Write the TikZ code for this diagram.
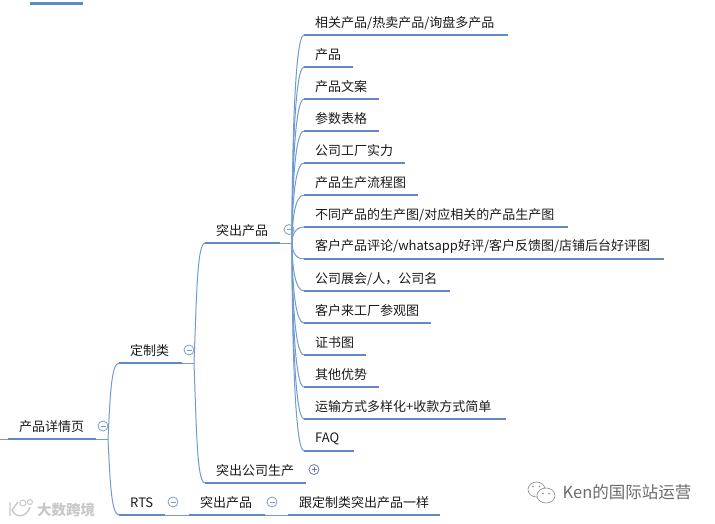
\documentclass[tikz,border=0pt]{standalone}
\usepackage{fontspec}
\usetikzlibrary{calc}
\setmainfont{Noto Sans CJK SC}
\definecolor{barblue}{HTML}{5F8AC4}
\definecolor{linkblue}{HTML}{6F9BD1}
\definecolor{btnblue}{HTML}{7F9CC6}
\definecolor{txt}{HTML}{1A1A1A}
\definecolor{wmgray}{HTML}{C8C8C8}
\tikzset{
  topic/.style={anchor=south west,inner sep=0pt,minimum height=24pt,text width=#1,align=left,
    execute at begin node={\hspace*{11pt}},font=\fontsize{13pt}{15pt}\selectfont,text=txt},
  bar/.style={draw=barblue,line width=2.8pt},
  link/.style={draw=linkblue,line width=1pt},
  btn/.style={circle,draw=btnblue,line width=.8pt,inner sep=0pt,minimum size=10pt},
  minusbtn/.style={btn,path picture={\draw[btnblue,line width=.8pt] ([xshift=2.5pt]path picture bounding box.west)--([xshift=-2.5pt]path picture bounding box.east);}},
  plusbtn/.style={btn,draw=btnblue!80!black,path picture={\draw[btnblue!80!black,line width=.8pt] ([xshift=2.5pt]path picture bounding box.west)--([xshift=-2.5pt]path picture bounding box.east) ([yshift=2.5pt]path picture bounding box.south)--([yshift=-2.5pt]path picture bounding box.north);}},
}
\begin{document}
\begin{tikzpicture}[x=1pt,y=-1pt]
\useasboundingbox (0,0) rectangle (715,523);
% topics
\node[topic=53pt] (stub) at (30,3.5) {};
\node[topic=88pt] (root) at (8,439) {产品详情页};
\node[topic=63pt] (custom) at (119,363) {定制类};
\node[topic=46pt] (rts) at (119,515) {RTS};
\node[topic=75pt] (high) at (205,243) {突出产品};
\node[topic=101pt] (factory) at (205,483) {突出公司生产};
\node[topic=76pt] (high2) at (189,515) {突出产品};
\node[topic=152pt] (same) at (288,515) {跟定制类突出产品一样};
\node[topic=204pt] (a) at (304,35) {相关产品/热卖产品/询盘多产品};
\node[topic=49pt] (b) at (304,67) {产品};
\node[topic=75pt] (c) at (304,99) {产品文案};
\node[topic=75pt] (d) at (304,131) {参数表格};
\node[topic=101pt] (e) at (304,163) {公司工厂实力};
\node[topic=114pt] (f) at (304,195) {产品生产流程图};
\node[topic=264pt] (g) at (304,227) {不同产品的生产图/对应相关的产品生产图};
\node[topic=360pt] (h) at (304,259) {客户产品评论/whatsapp好评/客户反馈图/店铺后台好评图};
\node[topic=146pt] (i) at (304,291) {公司展会/人，公司名};
\node[topic=127pt] (j) at (304,323) {客户来工厂参观图};
\node[topic=62pt] (k) at (304,355) {证书图};
\node[topic=75pt] (l) at (304,387) {其他优势};
\node[topic=202pt] (m) at (304,419) {运输方式多样化+收款方式简单};
\node[topic=50pt] (n) at (304,451) {FAQ};
% underlines
\foreach \t in {stub,root,custom,rts,high,factory,high2,same,a,b,c,d,e,f,g,h,i,j,k,l,m,n}
  \draw[bar] (\t.south west)--(\t.south east);
% connectors
\coordinate (rootin) at (0,439);
\draw[link] (rootin)--(root.south west);
\coordinate (hub1) at (108,439);
\draw[link] (root.south east)--(hub1);
\draw[link] (hub1) .. controls (110,400) and (111,363) .. (custom.south west);
\draw[link] (hub1) .. controls (110,478) and (111,515) .. (rts.south west);
\coordinate (hub2) at (194,363);
\draw[link] (custom.south east)--(hub2);
\draw[link] (hub2) .. controls (196.5,300) and (197,243) .. (high.south west);
\draw[link] (hub2) .. controls (196.5,430) and (197,483) .. (factory.south west);
\coordinate (hub3) at (292,243);
\draw[link] (high.south east)--(hub3);
\foreach \t in {a,b,c,d,e,f,g,h,i,j,k,l,m,n}
  \draw[link] (hub3) .. controls ($(hub3)!.42!(hub3|-\t.south west)$) and ($(hub3|-\t.south west)+(2.5,0)$) .. (\t.south west);
\draw[link] (rts.south east)--(high2.south west);
\draw[link] (high2.south east)--(same.south west);
% buttons
\node[minusbtn] (b1) at (103,426) {};
\node[minusbtn] (b2) at (189,350) {};
\node[minusbtn] (b3) at (289,229.5) {};
\node[plusbtn] (b4) at (314,469.5) {};
\node[minusbtn] (b5) at (173,502) {};
\node[minusbtn] (b6) at (272,502) {};
% watermarks
\node[inner sep=0pt,text=wmgray,font=\fontsize{14.5pt}{16pt}\selectfont\bfseries] (wm1) at (66,509.5) {大数跨境};
\draw[wmgray,line width=1.4pt] (10,502) -- (10,516) (12,510) -- (18,502) (12,510) .. controls (16,519) and (27,517) .. (30,507);
\draw[wmgray,line width=1pt] (23,503) circle (3pt) (30,502) circle (2.5pt);
\node[inner sep=0pt,text=black!58,font=\fontsize{16.5pt}{18pt}\selectfont] (wm2) at (627,492) {Ken的国际站运营};
\draw[black!40,line width=.7pt] (536.5,489.5) ellipse (8.5pt and 7.5pt);
\draw[black!40,line width=.7pt,fill=white] (546,495.5) ellipse (9pt and 7.5pt);
\fill[black!45] (533,486.5) circle (.9pt) (539.5,486.5) circle (.9pt) (543,493.5) circle (.8pt) (549,493.5) circle (.8pt);
\end{tikzpicture}
\end{document}
